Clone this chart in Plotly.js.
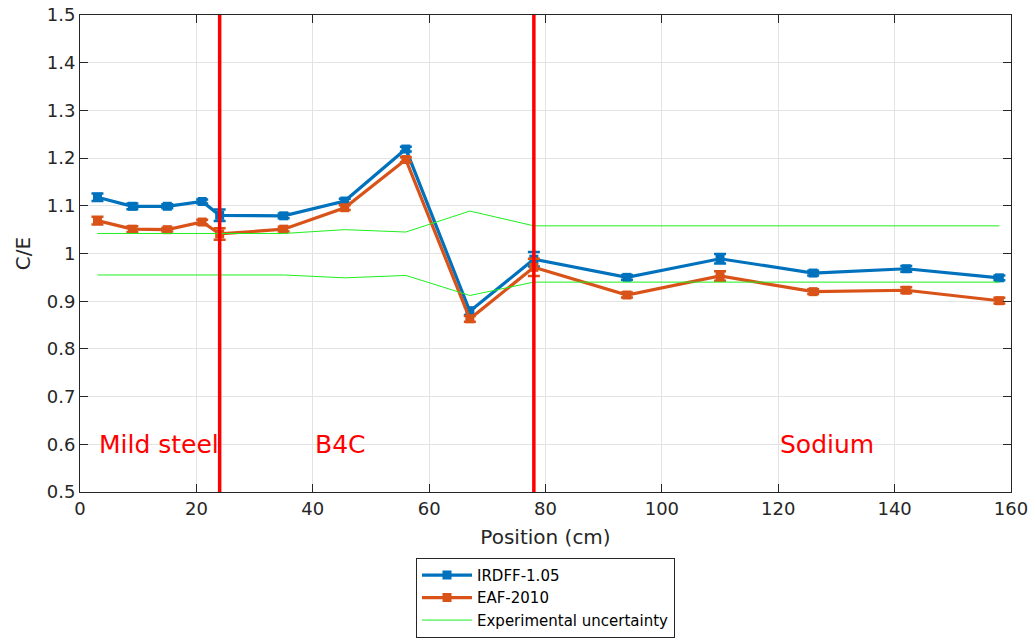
<!DOCTYPE html>
<html>
<head>
<meta charset="utf-8">
<script src="https://cdn.plot.ly/plotly-3.0.1.min.js"></script>
<style>
html,body{margin:0;padding:0;background:#fff;}
#chart{width:1036px;height:639px;}
</style>
</head>
<body>
<div id="chart"></div>
<script>
// Positions (cm)
var positions = [3, 9, 15, 21, 24, 35, 45.5, 56, 67, 78, 94, 110, 126, 142, 158];
// C/E values
var irdff = [1.118, 1.099, 1.099, 1.109, 1.080, 1.079, 1.110, 1.219, 0.879, 0.988, 0.950, 0.989, 0.959, 0.968, 0.949];
var irdffErr = [0.008, 0.006, 0.004, 0.004, 0.012, 0.005, 0.005, 0.005, 0.008, 0.015, 0.005, 0.010, 0.005, 0.006, 0.005];
var eaf = [1.069, 1.051, 1.050, 1.066, 1.041, 1.051, 1.096, 1.197, 0.863, 0.971, 0.913, 0.953, 0.920, 0.923, 0.901];
var eafErr = [0.008, 0.006, 0.004, 0.005, 0.012, 0.005, 0.005, 0.005, 0.006, 0.018, 0.005, 0.010, 0.005, 0.006, 0.006];
// Experimental uncertainty band
var uncUpper = [1.042, 1.042, 1.042, 1.042, 1.042, 1.042, 1.050, 1.045, 1.089, 1.058, 1.058, 1.058, 1.058, 1.058, 1.058];
var uncLower = [0.955, 0.955, 0.955, 0.955, 0.955, 0.955, 0.949, 0.954, 0.912, 0.940, 0.940, 0.940, 0.940, 0.940, 0.940];
// Region boundaries and labels
var boundaries = [24, 78];
var boundaryY = [0.5, 1.5];
var regionLabels = ['Mild steel', 'B4C', 'Sodium'];
var regionX = [3, 40, 120];
var regionY = [0.6, 0.6, 0.6];
var seriesNames = ['IRDFF-1.05', 'EAF-2010', 'Experimental uncertainty'];

var blue = '#0072BD', orange = '#D95319', green = '#1ef01e', red = '#FF0000';
var font = 'DejaVu Sans, Verdana, sans-serif';

var traces = [
  {x: positions, y: irdff, name: seriesNames[0], type: 'scatter', mode: 'lines+markers',
   line: {color: blue, width: 3.2}, marker: {symbol: 'square', size: 9, color: blue},
   error_y: {type: 'data', array: irdffErr, visible: true, color: blue, thickness: 2.5, width: 6}},
  {x: positions, y: eaf, name: seriesNames[1], type: 'scatter', mode: 'lines+markers',
   line: {color: orange, width: 3.2}, marker: {symbol: 'square', size: 9, color: orange},
   error_y: {type: 'data', array: eafErr, visible: true, color: orange, thickness: 2.5, width: 6}},
  {x: positions, y: uncUpper, name: seriesNames[2], type: 'scatter', mode: 'lines',
   line: {color: green, width: 1}},
  {x: positions, y: uncLower, name: seriesNames[2], type: 'scatter', mode: 'lines',
   line: {color: green, width: 1}, showlegend: false}
];
boundaries.forEach(function (b) {
  traces.push({x: [b, b], y: boundaryY, type: 'scatter', mode: 'lines',
    line: {color: red, width: 3.5}, showlegend: false, hoverinfo: 'skip'});
});

var annotations = regionLabels.map(function (t, i) {
  return {x: regionX[i], y: regionY[i], xref: 'x', yref: 'y', text: t, showarrow: false,
    xanchor: 'left', yanchor: 'middle', font: {family: font, size: 25, color: red}};
});

var axisCommon = {
  showline: true, linecolor: '#262626', linewidth: 1, mirror: 'ticks',
  ticks: 'inside', ticklen: 8, tickcolor: '#262626', tickwidth: 1,
  showgrid: true, gridcolor: '#e3e3e3', gridwidth: 1, zeroline: false,
  automargin: false,
  tickfont: {family: font, size: 18, color: '#262626'}
};

var layout = {
  width: 1036, height: 639,
  margin: {l: 80, r: 25, t: 15, b: 147, autoexpand: false},
  paper_bgcolor: '#ffffff', plot_bgcolor: '#ffffff',
  font: {family: font, color: '#262626'},
  showlegend: true,
  xaxis: Object.assign({}, axisCommon, {
    range: [0, 160], dtick: 20, tick0: 0,
    title: {text: 'Position (cm)', font: {family: font, size: 20, color: '#262626'}, standoff: 12}
  }),
  yaxis: Object.assign({}, axisCommon, {
    range: [0.5, 1.5], dtick: 0.1, tick0: 0.5,
    title: {text: 'C/E', font: {family: font, size: 20, color: '#262626'}, standoff: 10}
  }),
  legend: {
    x: 0.5, xanchor: 'center', y: -0.138, yanchor: 'top',
    bgcolor: '#ffffff', bordercolor: '#262626', borderwidth: 1,
    font: {family: font, size: 15, color: '#000000'},
    itemwidth: 50,
    tracegroupgap: 0
  },
  annotations: annotations
};

Plotly.newPlot('chart', traces, layout, {staticPlot: true, displayModeBar: false});
</script>
</body>
</html>
